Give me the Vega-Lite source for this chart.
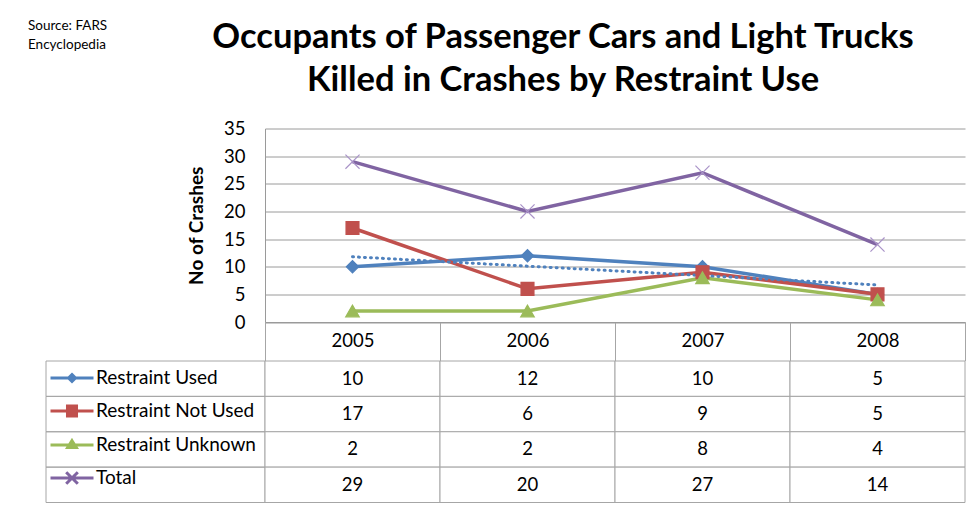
{
  "$schema": "https://vega.github.io/schema/vega-lite/v6.json",
  "padding": {"left": 28, "top": 18.5, "right": 5, "bottom": 5},
  "background": "#ffffff",
  "config": {
    "view": {"stroke": null},
    "font": "Lato",
    "text": {"font": "Lato"}
  },
  "datasets": {
    "main": [
      {"series": "Restraint Used", "year": "2005", "value": 10},
      {"series": "Restraint Used", "year": "2006", "value": 12},
      {"series": "Restraint Used", "year": "2007", "value": 10},
      {"series": "Restraint Used", "year": "2008", "value": 5},
      {"series": "Restraint Not Used", "year": "2005", "value": 17},
      {"series": "Restraint Not Used", "year": "2006", "value": 6},
      {"series": "Restraint Not Used", "year": "2007", "value": 9},
      {"series": "Restraint Not Used", "year": "2008", "value": 5},
      {"series": "Restraint Unknown", "year": "2005", "value": 2},
      {"series": "Restraint Unknown", "year": "2006", "value": 2},
      {"series": "Restraint Unknown", "year": "2007", "value": 8},
      {"series": "Restraint Unknown", "year": "2008", "value": 4},
      {"series": "Total", "year": "2005", "value": 29},
      {"series": "Total", "year": "2006", "value": 20},
      {"series": "Total", "year": "2007", "value": 27},
      {"series": "Total", "year": "2008", "value": 14}
    ],
    "trend": [
      {"year": "2005", "value": 11.8},
      {"year": "2008", "value": 6.7}
    ]
  },
  "columns": 2,
  "spacing": {"row": 38.5, "column": 0},
  "bounds": "flush",
  "align": "each",
  "resolve": {
    "scale": {"color": "independent", "fill": "independent", "shape": "independent", "stroke": "independent", "size": "independent", "x": "independent", "y": "independent"},
    "legend": {"color": "independent", "fill": "independent", "shape": "independent", "stroke": "independent"}
  },
  "concat": [
    {
      "width": 219,
      "height": 193.5,
      "data": {"values": []},
      "mark": "text",
      "title": {
        "text": ["Source: FARS", "Encyclopedia"],
        "anchor": "start",
        "fontSize": 13.5,
        "fontWeight": "normal",
        "font": "Lato",
        "color": "#000000",
        "lineHeight": 19,
        "baseline": "alphabetic",
        "offset": 66,
        "dx": -18
      }
    },
    {
      "width": 700,
      "height": 193.5,
      "title": {
        "text": ["Occupants of Passenger Cars and Light Trucks", "Killed in Crashes by Restraint Use"],
        "font": "Lato",
        "fontSize": 34.5,
        "fontWeight": "bold",
        "color": "#000000",
        "anchor": "middle",
        "lineHeight": 43,
        "baseline": "alphabetic",
        "dx": -52,
        "offset": -6
      },
      "encoding": {
        "x": {
          "field": "year",
          "type": "ordinal",
          "scale": {"type": "band", "domain": ["2005", "2006", "2007", "2008"], "paddingInner": 0, "paddingOuter": 0},
          "axis": {
            "title": null,
            "orient": "bottom",
            "labelAngle": 0,
            "tickBand": "extent",
            "tickSize": 38.5,
            "tickColor": "#A6A6A6",
            "domainColor": "#9A9A9A",
            "labelFontSize": 18.5,
            "labelColor": "#000000",
            "labelPadding": -29,
            "grid": false
          }
        },
        "y": {
          "field": "value",
          "type": "quantitative",
          "scale": {"domain": [0, 35], "nice": false},
          "axis": {
            "values": [0, 5, 10, 15, 20, 25, 30, 35],
            "title": "No of Crashes",
            "titleFontSize": 19,
            "titleFontWeight": "bold",
            "titleColor": "#000000",
            "titlePadding": 17,
            "labelFontSize": 18.5,
            "labelColor": "#000000",
            "labelPadding": 20,
            "ticks": false,
            "domainColor": "#9A9A9A",
            "gridColor": "#9A9A9A",
            "grid": true
          }
        }
      },
      "layer": [
        {
          "data": {"name": "main"},
          "mark": {"type": "line", "strokeWidth": 3.5},
          "encoding": {
            "color": {
              "field": "series",
              "type": "nominal",
              "scale": {"domain": ["Restraint Used", "Restraint Not Used", "Restraint Unknown", "Total"], "range": ["#4F81BD", "#C0504D", "#9BBB59", "#8064A2"]},
              "legend": null
            }
          }
        },
        {
          "data": {"name": "trend"},
          "mark": {"type": "line", "strokeWidth": 3, "strokeDash": [1, 5], "strokeCap": "round", "color": "#4F81BD"},
          "encoding": {}
        },
        {
          "data": {"name": "main"},
          "mark": {"type": "point", "filled": true, "opacity": 1, "strokeWidth": 1.2},
          "encoding": {
            "color": {
              "field": "series",
              "type": "nominal",
              "scale": {"domain": ["Restraint Used", "Restraint Not Used", "Restraint Unknown", "Total"], "range": ["#4F81BD", "#C0504D", "#9BBB59", "#8064A2"]},
              "legend": null
            },
            "stroke": {
              "field": "series",
              "type": "nominal",
              "scale": {"domain": ["Restraint Used", "Restraint Not Used", "Restraint Unknown", "Total"], "range": ["#4F81BD", "#C0504D", "#9BBB59", "#A993C8"]},
              "legend": null
            },
            "shape": {
              "field": "series",
              "type": "nominal",
              "scale": {"domain": ["Restraint Used", "Restraint Not Used", "Restraint Unknown", "Total"], "range": ["diamond", "square", "triangle-up", "M-1,-1L1,1M-1,1L1,-1"]},
              "legend": null
            },
            "size": {
              "field": "series",
              "type": "nominal",
              "scale": {"domain": ["Restraint Used", "Restraint Not Used", "Restraint Unknown", "Total"], "range": [150, 200, 170, 200]},
              "legend": null
            }
          }
        }
      ]
    },
    {
      "width": 219,
      "height": 141.5,
      "data": {"name": "main"},
      "transform": [{"aggregate": [{"op": "count", "as": "n"}], "groupby": ["series"]}],
      "encoding": {
        "y": {
          "field": "series",
          "type": "nominal",
          "scale": {"domain": ["Restraint Used", "Restraint Not Used", "Restraint Unknown", "Total"], "paddingInner": 0, "paddingOuter": 0},
          "axis": null
        }
      },
      "layer": [
        {"mark": {"type": "rect", "filled": false, "stroke": "#A6A6A6", "strokeWidth": 1}},
        {
          "mark": {"type": "point", "filled": true, "opacity": 0},
          "encoding": {
            "fill": {
              "field": "series",
              "type": "nominal",
              "scale": {"domain": ["Restraint Used", "Restraint Not Used", "Restraint Unknown", "Total"], "range": ["#4F81BD", "#C0504D", "#9BBB59", "#8064A2"]},
              "legend": {
                "orient": "none",
                "legendX": 3,
                "legendY": -6,
                "title": null,
                "direction": "vertical",
                "padding": 0,
                "labelFontSize": 19,
                "labelColor": "#000000",
                "labelFont": "Lato",
                "labelOffset": 1,
                "rowPadding": -4,
                "symbolSize": 1849,
                "symbolStrokeWidth": 3,
                "symbolOpacity": 1
              }
            },
            "stroke": {
              "field": "series",
              "type": "nominal",
              "scale": {"domain": ["Restraint Used", "Restraint Not Used", "Restraint Unknown", "Total"], "range": ["#4F81BD", "#C0504D", "#9BBB59", "#8064A2"]}
            },
            "shape": {
              "field": "series",
              "type": "nominal",
              "scale": {"domain": ["Restraint Used", "Restraint Not Used", "Restraint Unknown", "Total"], "range": ["M-1,0H1M0,-0.16L0.16,0L0,0.16L-0.16,0ZM0,-0.08L0.08,0L0,0.08L-0.08,0Z", "M-1,0H1M-0.28,-0.23H0.28M-0.28,-0.115H0.28M-0.28,0.115H0.28M-0.28,0.23H0.28", "M-1,0H1M0,-0.2L0.2,0.12H-0.2ZM-0.1,0.06H0.1", "M-1,0H1M-0.27,-0.27L0.27,0.27M-0.27,0.27L0.27,-0.27"]}
            }
          }
        }
      ]
    },
    {
      "width": 700,
      "height": 141.5,
      "data": {"name": "main"},
      "encoding": {
        "x": {
          "field": "year",
          "type": "ordinal",
          "scale": {"domain": ["2005", "2006", "2007", "2008"], "paddingInner": 0, "paddingOuter": 0},
          "axis": null
        },
        "y": {
          "field": "series",
          "type": "nominal",
          "scale": {"domain": ["Restraint Used", "Restraint Not Used", "Restraint Unknown", "Total"], "paddingInner": 0, "paddingOuter": 0},
          "axis": null
        }
      },
      "layer": [
        {"mark": {"type": "rect", "fill": "#ffffff", "stroke": "#A6A6A6", "strokeWidth": 1}},
        {"mark": {"type": "text", "fontSize": 18.5, "color": "#000000", "font": "Lato"}, "encoding": {"text": {"field": "value", "type": "quantitative"}}}
      ]
    }
  ]
}
